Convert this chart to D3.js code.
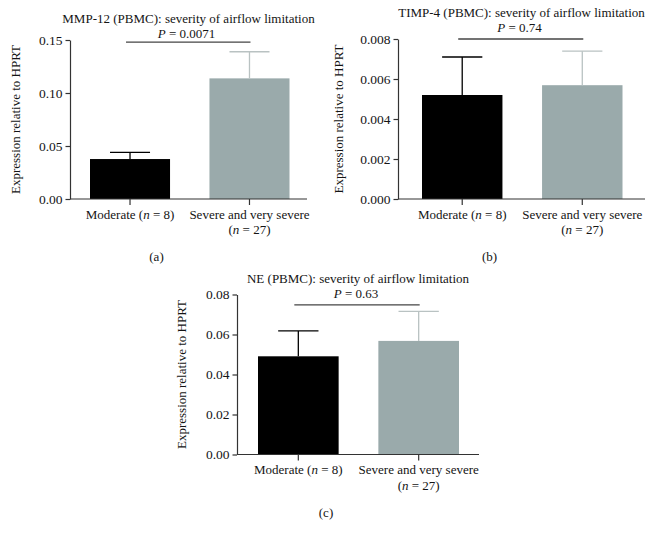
<!DOCTYPE html>
<html>
<head>
<meta charset="utf-8">
<script src="https://cdn.jsdelivr.net/npm/d3@7"></script>
<style>
  html, body { margin: 0; padding: 0; background: #fff; }
  text { font-family: "Liberation Serif", "Times New Roman", serif; }
</style>
</head>
<body>
<svg id="chart" width="653" height="538"></svg>
<script>
// ---- data ----
const categories = ["Moderate", "Severe and very severe"];
const groupN = [8, 27];

const mmp12Mean = [0.0377, 0.1138];
const mmp12Sem  = [0.0063, 0.0251];
const mmp12Ticks = [0, 0.05, 0.10, 0.15];

const timp4Mean = [0.0052, 0.00569];
const timp4Sem  = [0.0019, 0.0017];
const timp4Ticks = [0, 0.002, 0.004, 0.006, 0.008];

const neMean = [0.0491, 0.0568];
const neSem  = [0.0127, 0.0148];
const neTicks = [0, 0.02, 0.04, 0.06, 0.08];

const titles = [
  "MMP-12 (PBMC): severity of airflow limitation",
  "TIMP-4 (PBMC): severity of airflow limitation",
  "NE (PBMC): severity of airflow limitation"
];
const pValues = ["0.0071", "0.74", "0.63"];
const sigHeights = [0.148, 0.008, 0.0748];
const panelLetters = ["(a)", "(b)", "(c)"];
const yLabel = "Expression relative to HPRT";

// ---- layout (pixels) ----
const panels = [
  { mean: mmp12Mean, sem: mmp12Sem, ticks: mmp12Ticks, fmt: ".2f",
    ax0: 70, ax1: 307, bar0: 90, bar1: 289.5, top: 40, bottom: 199,
    titleY: 22.5, pY: 37.5, ylabX: 20 },
  { mean: timp4Mean, sem: timp4Sem, ticks: timp4Ticks, fmt: ".3f",
    ax0: 398, ax1: 645, bar0: 422, bar1: 622.5, top: 39, bottom: 199,
    titleY: 17, pY: 32, ylabX: 343 },
  { mean: neMean, sem: neSem, ticks: neTicks, fmt: ".2f",
    ax0: 237, ax1: 479, bar0: 258, bar1: 459, top: 294.5, bottom: 454.5,
    titleY: 282.5, pY: 298.3, ylabX: 186 }
];

const barColors = ["#000000", "#9aaaab"];
const errColors = ["#000000", "#b9c2c2"];
const axisColor = "#333333";
const textColor = "#141414";
const fontSize = 13;
const tickFontSize = 13.5;

const svg = d3.select("#chart");
svg.append("rect").attr("width", 653).attr("height", 538).attr("fill", "#fff");

panels.forEach((p, i) => {
  const g = svg.append("g");
  const yMax = p.ticks[p.ticks.length - 1];
  const y = d3.scaleLinear().domain([0, yMax]).range([p.bottom, p.top]);
  const x = d3.scaleBand().domain(categories).range([p.bar0, p.bar1])
    .paddingInner(0.33).paddingOuter(0);
  const bw = x.bandwidth();
  const cx = c => x(c) + bw / 2;

  // bars
  g.selectAll("rect.bar").data(categories).join("rect")
    .attr("x", d => x(d)).attr("width", bw)
    .attr("y", (d, j) => y(p.mean[j]))
    .attr("height", (d, j) => y(0) - y(p.mean[j]))
    .attr("fill", (d, j) => barColors[j]);

  // error bars (upper only)
  categories.forEach((c, j) => {
    const top = y(p.mean[j] + p.sem[j]);
    g.append("line").attr("x1", cx(c)).attr("x2", cx(c))
      .attr("y1", y(p.mean[j])).attr("y2", top)
      .attr("stroke", errColors[j]).attr("stroke-width", 1.3);
    g.append("line").attr("x1", cx(c) - bw / 4).attr("x2", cx(c) + bw / 4)
      .attr("y1", top).attr("y2", top)
      .attr("stroke", errColors[j]).attr("stroke-width", 1.3);
  });

  // y axis
  const yAxis = d3.axisLeft(y).tickValues(p.ticks).tickFormat(d3.format(p.fmt))
    .tickSize(4.5).tickSizeOuter(0).tickPadding(3);
  const ya = g.append("g").attr("transform", `translate(${p.ax0},0)`).call(yAxis);
  ya.select(".domain").attr("stroke", axisColor).attr("stroke-width", 1.2);
  ya.selectAll(".tick line").attr("stroke", axisColor).attr("stroke-width", 1.2);
  ya.selectAll(".tick text").attr("font-size", tickFontSize)
    .attr("font-family", "Liberation Serif").attr("fill", textColor);

  // x axis line and ticks
  g.append("line").attr("x1", p.ax0).attr("x2", p.ax1)
    .attr("y1", y(0)).attr("y2", y(0))
    .attr("stroke", axisColor).attr("stroke-width", 1.2);
  categories.forEach((c, j) => {
    g.append("line").attr("x1", cx(c)).attr("x2", cx(c))
      .attr("y1", y(0)).attr("y2", y(0) + 6)
      .attr("stroke", axisColor).attr("stroke-width", 1.2);
  });

  // x labels
  const lab0 = g.append("text").attr("x", cx(categories[0])).attr("y", y(0) + 19.5)
    .attr("text-anchor", "middle").attr("font-size", fontSize).attr("fill", textColor);
  lab0.append("tspan").text(categories[0] + " (");
  lab0.append("tspan").attr("font-style", "italic").text("n");
  lab0.append("tspan").text(" = " + groupN[0] + ")");

  g.append("text").attr("x", cx(categories[1])).attr("y", y(0) + 19.5)
    .attr("text-anchor", "middle").attr("font-size", fontSize).attr("fill", textColor)
    .text(categories[1]);
  const lab1 = g.append("text").attr("x", cx(categories[1])).attr("y", y(0) + 35)
    .attr("text-anchor", "middle").attr("font-size", fontSize).attr("fill", textColor);
  lab1.append("tspan").text("(");
  lab1.append("tspan").attr("font-style", "italic").text("n");
  lab1.append("tspan").text(" = " + groupN[1] + ")");

  // y label
  const midY = (p.top + p.bottom) / 2;
  g.append("text").attr("transform", `translate(${p.ylabX},${midY}) rotate(-90)`)
    .attr("text-anchor", "middle").attr("font-size", fontSize).attr("fill", textColor)
    .text(yLabel);

  // title
  const midX = (p.ax0 + p.ax1) / 2;
  g.append("text").attr("x", midX).attr("y", p.titleY)
    .attr("text-anchor", "middle").attr("font-size", fontSize).attr("fill", textColor)
    .text(titles[i]);

  // P value
  const pt = g.append("text").attr("x", midX - 2).attr("y", p.pY)
    .attr("text-anchor", "middle").attr("font-size", fontSize).attr("fill", textColor);
  pt.append("tspan").attr("font-style", "italic").text("P");
  pt.append("tspan").text(" = " + pValues[i]);

  // significance line
  g.append("line").attr("x1", cx(categories[0]) - 4).attr("x2", cx(categories[1]) + 1)
    .attr("y1", y(sigHeights[i])).attr("y2", y(sigHeights[i]))
    .attr("stroke", "#444").attr("stroke-width", 1.3);

  // panel letter
  g.append("text").attr("x", midX - 32).attr("y", p.bottom + 62)
    .attr("text-anchor", "middle").attr("font-size", fontSize).attr("fill", textColor)
    .text(panelLetters[i]);
});
</script>
</body>
</html>
